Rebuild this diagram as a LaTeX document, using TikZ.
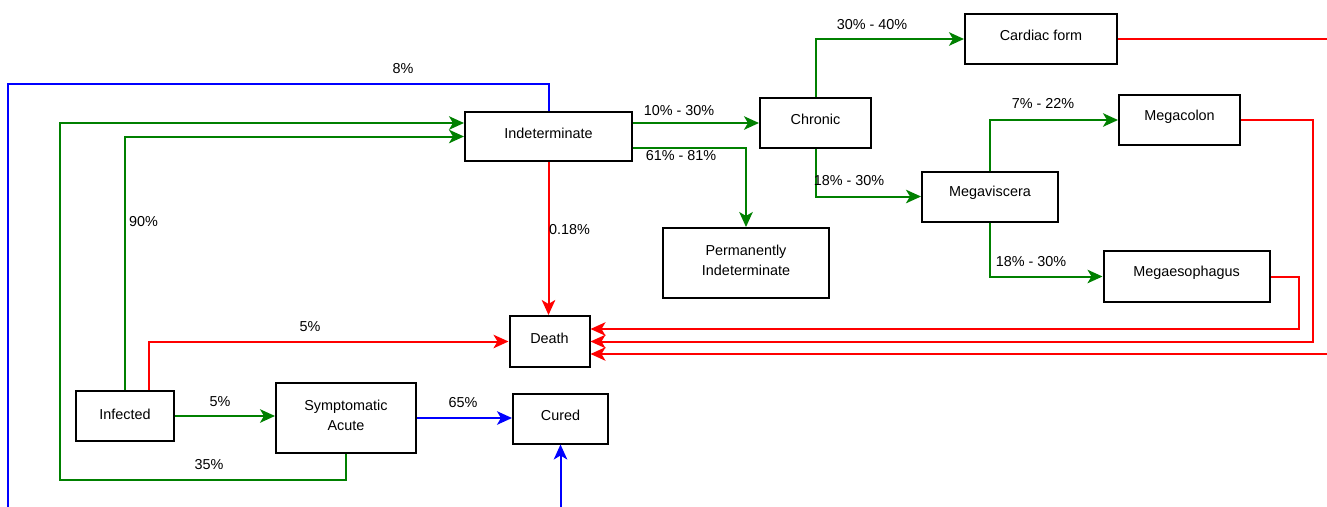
\documentclass[tikz,border=0pt]{standalone}
\usepackage{fontspec}
\setmainfont{Liberation Sans}
\usetikzlibrary{arrows.meta,calc}
\definecolor{fgreen}{RGB}{0,128,0}
\definecolor{fred}{RGB}{255,0,0}
\definecolor{fblue}{RGB}{0,0,255}
\newcommand\liftTxt[1]{\raisebox{3.5pt}[\height][\depth]{#1}}
\newcommand\liftTwo[2]{\raisebox{1.5pt}[\height][\depth]{\begin{tabular}{@{}c@{}}#1\\#2\end{tabular}}}
\begin{document}
\begin{tikzpicture}[x=1pt,y=-1pt,
  font=\fontsize{14.4}{20}\selectfont,
  box/.style={draw=black, line width=2pt, inner sep=0pt, fill=white},
  flow/.style={line width=2pt, -{Stealth[length=15pt,width=13.5pt,inset=4pt]}},
  gflow/.style={flow, draw=fgreen},
  rflow/.style={flow, draw=fred},
  bflow/.style={flow, draw=fblue},
  lbl/.style={inner sep=0pt, text=black}]
\useasboundingbox (0,0) rectangle (1327,506);
\clip (0,0) rectangle (1327,506);

% nodes
\node[box, minimum width=167, minimum height=49] (ind) at (548.5,136.5) {\liftTxt{Indeterminate}};
\node[box, minimum width=111, minimum height=50] (chr) at (815.5,123) {\liftTxt{Chronic}};
\node[box, minimum width=152, minimum height=50] (card) at (1041,39) {\liftTxt{Cardiac form}};
\node[box, minimum width=121, minimum height=50] (mcol) at (1179.5,120) {\liftTxt{Megacolon}};
\node[box, minimum width=136, minimum height=50] (mvis) at (990,196.5) {\liftTxt{Megaviscera}};
\node[box, minimum width=166, minimum height=51] (meso) at (1186.5,276.5) {\liftTxt{Megaesophagus}};
\node[box, minimum width=166, minimum height=70] (perm) at (746,263) {\liftTwo{Permanently}{Indeterminate}};
\node[box, minimum width=80, minimum height=51] (death) at (549.5,341.5) {\liftTxt{Death}};
\node[box, minimum width=98, minimum height=50] (inf) at (125,416) {\raisebox{1.5pt}[\height][\depth]{Infected}};
\node[box, minimum width=140, minimum height=70] (sa) at (346,418) {\liftTwo{Symptomatic}{Acute}};
\node[box, minimum width=95, minimum height=50] (cured) at (560.5,418.5) {\liftTxt{Cured}};

% helper coordinates
\coordinate (bluecorner) at (8,84);
\coordinate (greencorner) at (60,480);

% connectors
\draw[bflow] (ind.north) |- (bluecorner) -- (8,530) -| (cured.south);
\draw[gflow] (sa.south) |- (greencorner) |- ($(ind.west)+(0,-13.5)$);
\draw[gflow] (inf.north) |- (ind.west);
\draw[rflow] ($(inf.north)+(24,0)$) |- (death.west);
\draw[gflow] (inf.east) -- (inf.east -| sa.west);
\draw[bflow] (sa.east) -- (sa.east -| cured.west);
\draw[rflow] (ind.south) -- (ind.south |- death.north);
\draw[gflow] (ind.east |- chr.west) -- (chr.west);
\draw[gflow] ($(ind.east)+(0,11.5)$) -| (perm.north);
\draw[gflow] (chr.north) |- (card.west);
\draw[gflow] (chr.south) |- (mvis.west);
\draw[gflow] (mvis.north) |- (mcol.west);
\draw[gflow] (mvis.south) |- (meso.west);
\draw[rflow] (mcol.east) -- ++(72,0) |- (death.east);
\draw[rflow] (meso.east) -- ++(28,0) |- ($(death.east)+(0,-12.5)$);
\draw[rflow] (card.east) -- ++(230,0) |- ($(death.east)+(0,12.5)$);

% labels
\node[lbl] (l8) at (403,69) {8\%};
\node[lbl, anchor=west] (l90) at (129,222) {90\%};
\node[lbl, anchor=west] (l018) at (549,230) {0.18\%};
\node[lbl] (l5a) at (310,327) {5\%};
\node[lbl] (l5b) at (220,402) {5\%};
\node[lbl] (l65) at (463,403) {65\%};
\node[lbl] (l35) at (209,465) {35\%};
\node[lbl] (l1030) at (679,111) {10\% - 30\%};
\node[lbl] (l6181) at (681,156) {61\% - 81\%};
\node[lbl] (l3040) at (872,25) {30\% - 40\%};
\node[lbl] (l1830a) at (849,181) {18\% - 30\%};
\node[lbl] (l722) at (1043,104) {7\% - 22\%};
\node[lbl] (l1830b) at (1031,262) {18\% - 30\%};
\end{tikzpicture}
\end{document}
